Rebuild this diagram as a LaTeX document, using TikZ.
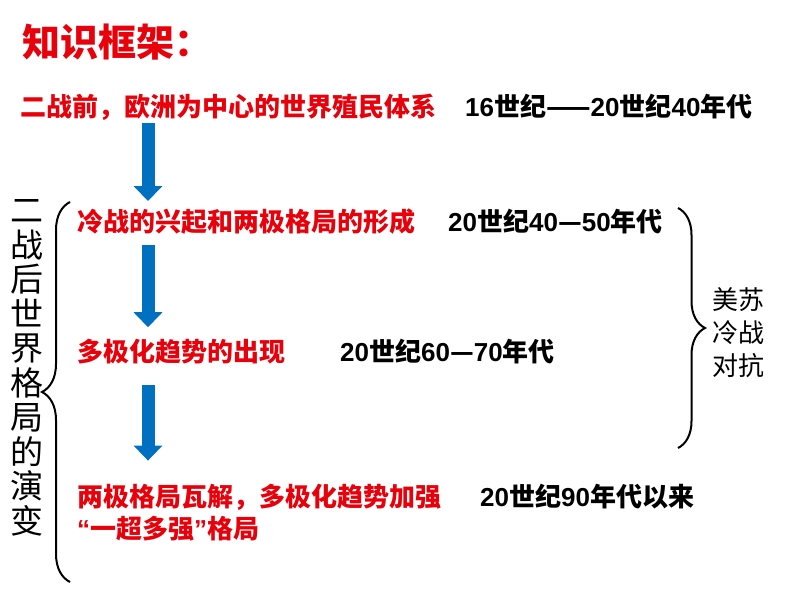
\documentclass[tikz,border=0pt]{standalone}
\usepackage{fontspec}
\setmainfont{Noto Sans CJK SC}
\newfontfamily\dgfont{Liberation Sans}
\usetikzlibrary{arrows.meta,decorations.pathreplacing}
\definecolor{txtred}{RGB}{232,0,10}
\definecolor{arrblue}{RGB}{0,112,192}
\newcommand{\dg}[1]{{\dgfont #1}}
\tikzset{
  stage/.style={anchor=west, inner sep=0pt, text=txtred, font=\fontsize{26}{30}\selectfont\bfseries},
  period/.style={anchor=west, inner sep=0pt, font=\fontsize{26}{30}\selectfont\bfseries},
  downarrow/.style={arrblue, line width=13pt, -{Triangle[width=28pt,length=15pt]}},
  bracket/.style={decorate, decoration={brace, amplitude=27pt}, line width=2pt}
}
\begin{document}
\begin{tikzpicture}[x=1pt,y=-1pt]
  \useasboundingbox (0,0) rectangle (794,596);
  % title
  \node[anchor=west, inner sep=0pt, text=txtred, font=\fontsize{38}{44}\selectfont\bfseries] (title) at (22,42) {知识框架：};
  % stages of the world order
  \node[stage] (before) at (20,107) {二战前，欧洲为中心的世界殖民体系};
  \node[period] (tbefore) at (465,107) {\dg{16}世纪——\dg{20}世纪\dg{40}年代};
  \node[stage] (coldwar) at (77,222) {冷战的兴起和两极格局的形成};
  \node[period] (tcoldwar) at (448,222) {\dg{20}世纪\dg{40}—\dg{50}年代};
  \node[stage] (multi) at (77,352) {多极化趋势的出现};
  \node[period] (tmulti) at (340,352) {\dg{20}世纪\dg{60}—\dg{70}年代};
  \node[stage] (collapse) at (77,497) {两极格局瓦解，多极化趋势加强};
  \node[period] (tcollapse) at (480,497) {\dg{20}世纪\dg{90}年代以来};
  \node[stage] (superpower) at (77,529) {\dg{“}一超多强\dg{”}格局};
  % arrows between the stages
  \coordinate (ax) at (148,0);
  \draw[downarrow] (before.south -| ax) ++(0,3) -- ([yshift=8pt]coldwar.north -| ax);
  \draw[downarrow] ([yshift=-10pt]coldwar.south -| ax) -- ([yshift=12pt]multi.north -| ax);
  \draw[downarrow] ([yshift=-20pt]multi.south -| ax) -- ([yshift=23pt]collapse.north -| ax);
  % left brace and its label
  \coordinate (lbot) at (70,582);
  \coordinate (ltop) at (70,202);
  \draw[bracket, decoration={amplitude=28pt}] (lbot) -- (ltop);
  \node[inner sep=0pt, align=center, font=\fontsize{33}{34.5}\selectfont] (postwar) at (27,368)
    {二\\战\\后\\世\\界\\格\\局\\的\\演\\变};
  % right brace and its label
  \coordinate (rtop) at (678,208);
  \coordinate (rbot) at (678,448);
  \draw[bracket] (rtop) -- (rbot);
  \node[anchor=west, inner sep=0pt, align=center, font=\fontsize{26}{33}\selectfont] (rivalry) at (712,333)
    {美苏\\冷战\\对抗};
\end{tikzpicture}
\end{document}
